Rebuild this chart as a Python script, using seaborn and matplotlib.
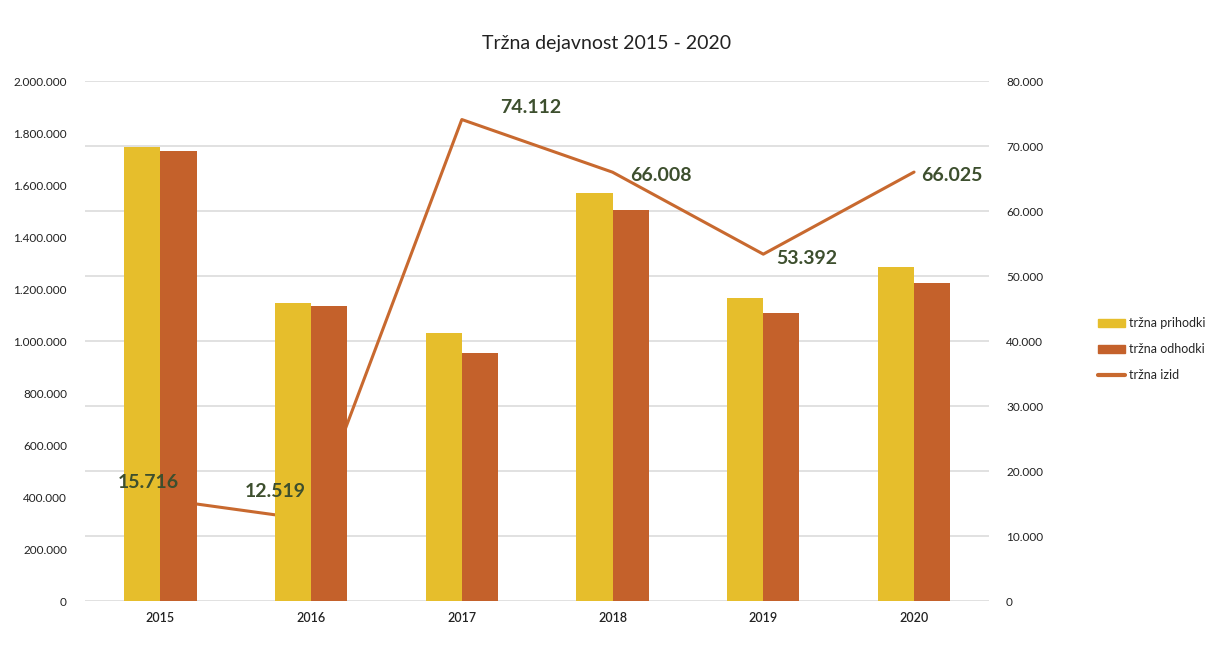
import matplotlib
matplotlib.use("Agg")
import matplotlib.pyplot as plt
from matplotlib.ticker import FuncFormatter
from matplotlib.patches import Patch
from matplotlib.lines import Line2D
import seaborn as sns
import pandas as pd

# podatki
leta = ["2015", "2016", "2017", "2018", "2019", "2020"]
prihodki = [1746000, 1146000, 1031000, 1569000, 1168000, 1285000]
odhodki = [1730000, 1134000, 955000, 1504000, 1108000, 1222000]
izid = [15716, 12519, 74112, 66008, 53392, 66025]
serije = ["tržna prihodki", "tržna odhodki"]
naslov = "Tržna dejavnost 2015 - 2020"

barve = ["#E6BE2C", "#C4612B"]
barva_crte = "#C8692F"
barva_oznak = "#3D4F2E"

df = pd.DataFrame({
    "leto": leta * 2,
    "vrednost": prihodki + odhodki,
    "serija": [serije[0]] * len(leta) + [serije[1]] * len(leta),
})

sns.set_style("white")
plt.rcParams["font.family"] = ["Lato", "DejaVu Sans"]

fig = plt.figure(figsize=(12.14, 6.45), dpi=100)
ax = fig.add_axes([0.070, 0.068, 0.745, 0.806])
ax2 = ax.twinx()

sns.barplot(data=df, x="leto", y="vrednost", hue="serija", palette=barve,
            width=0.48, gap=0, ax=ax, legend=False, saturation=1, linewidth=0)

ax2.plot(range(len(leta)), izid, color=barva_crte, linewidth=2.2)

# stolpci nad crto
ax.set_zorder(ax2.get_zorder() + 1)
ax.patch.set_visible(False)

ax.set_xlim(-0.5, 5.5)
ax.set_ylim(0, 2000000)
ax2.set_ylim(0, 80000)
ax.set_yticks(range(0, 2000001, 200000))
ax2.set_yticks(range(0, 80001, 10000))

fmt = FuncFormatter(lambda v, p: f"{int(v):,}".replace(",", "."))
ax.yaxis.set_major_formatter(fmt)
ax2.yaxis.set_major_formatter(fmt)

ax2.grid(False)
ax.grid(False)
ax2.yaxis.grid(True, color="#DCDCDC", linewidth=1.2)
ax.set_xlabel("")
ax.set_ylabel("")
for a in (ax, ax2):
    for s in a.spines.values():
        s.set_visible(False)
    a.tick_params(length=0, labelsize=8.5, colors="#222222")
ax.tick_params(axis="y", pad=13)
ax2.tick_params(axis="y", pad=12)
ax.tick_params(axis="x", pad=8, labelsize=9)
for t in ax.get_xticklabels():
    t.set_fontweight("semibold")

# oznake izida (nad stolpci)
odmiki = [(-12, 17), (-36, 28), (69, 12), (48, -3), (43, -4), (38, -3)]
for i, v in enumerate(izid):
    dx, dy = odmiki[i]
    ax.annotate(f"{v:,}".replace(",", "."), (i, v), xycoords=ax2.transData,
                xytext=(dx, dy), textcoords="offset pixels",
                ha="center", va="center",
                fontsize=14, fontweight="bold", color=barva_oznak)

fig.text(0.5, 1 - 43 / 645, naslov, ha="center", va="center",
         fontsize=14, color="#222222")

rocaji = [Patch(color=barve[0]), Patch(color=barve[1]),
          Line2D([0], [0], color=barva_crte, linewidth=3)]
fig.legend(rocaji, serije + ["tržna izid"], loc="center left",
           bbox_to_anchor=(0.895, 1 - 349 / 645), frameon=False,
           fontsize=9, handlelength=2.2, handleheight=0.6,
           labelspacing=1.1, handletextpad=0.3)

fig.savefig("out.png", dpi=100)
